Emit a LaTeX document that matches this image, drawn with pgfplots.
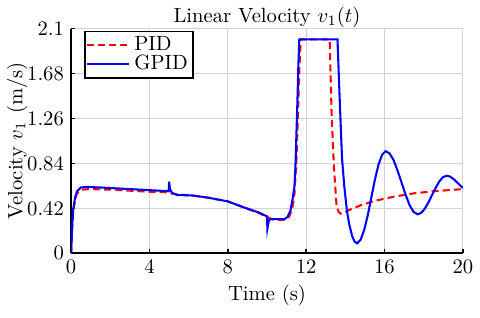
\documentclass[border=0pt]{standalone}
\usepackage{pgfplots}
\pgfplotsset{compat=1.18}
\begin{document}
\begin{tikzpicture}
\begin{axis}[
  scale only axis,
  width=190pt, height=109pt,
  xmin=0, xmax=20, ymin=0, ymax=2.1,
  xtick={0,4,8,12,16,20},
  ytick={0,0.42,0.84,1.26,1.68,2.1},
  yticklabels={0,0.42,0.84,1.26,1.68,2.1},
  axis x line=bottom, axis y line=left,
  axis line style={-, black, line width=0.8pt},
  tick align=inside,
  major tick length=2pt,
  tick style={black, line width=0.7pt},
  grid=major,
  grid style={gray!35, line width=0.5pt},
  title={Linear Velocity $v_1(t)$},
  title style={yshift=-9pt},
  xlabel={Time (s)},
  xlabel style={yshift=1.5pt},
  ylabel={Velocity $v_1$ (m/s)},
  ylabel style={yshift=-7pt},
  legend style={at={(0.033,0.99)}, anchor=north west, draw=black, line width=0.8pt, fill=white, legend cell align=left, inner sep=0.5pt, row sep=-3.5pt, nodes={inner sep=2pt}},
  legend image code/.code={\draw[#1] (0cm,0cm) -- (0.72cm,0cm);},
]
\addplot[red, dashed, dash pattern=on 3.4pt off 2pt, line width=1pt] coordinates {
(0,0) (0.05,0.22) (0.1,0.38) (0.2,0.5) (0.3,0.56) (0.5,0.595) (1,0.6) (2,0.595) (3,0.585) (4,0.575) (4.95,0.57) (5.1,0.56) (5.4,0.55) (6.2,0.54) (7,0.52) (8,0.485) (8.8,0.43) (9.6,0.375) (10.0,0.34) (10.3,0.315) (10.8,0.31) (11.1,0.33) (11.3,0.42) (11.4,0.55) (11.5,0.85) (11.58,1.3) (11.65,1.7) (11.72,2.0) (13.2,2.0) (13.3,1.3) (13.42,0.8) (13.55,0.45) (13.65,0.39) (13.75,0.372) (13.85,0.37) (14.2,0.405) (14.8,0.45) (15.5,0.49) (16.5,0.53) (17.5,0.56) (18.5,0.58) (20,0.60)
};
\addlegendentry{PID}
\addplot[blue, line width=1pt] coordinates {
(0,0) (0.05,0.25) (0.1,0.4) (0.2,0.52) (0.3,0.58) (0.5,0.615) (0.8,0.62) (1.5,0.615) (2.5,0.605) (3.5,0.595) (4.5,0.585) (4.98,0.58) (5.0,0.67) (5.05,0.6) (5.15,0.565) (5.4,0.545) (6.2,0.54) (7.0,0.52) (8.0,0.485) (8.8,0.43) (9.6,0.38) (10.0,0.345) (10.02,0.23) (10.1,0.31) (10.2,0.32) (10.9,0.32) (11.05,0.34) (11.2,0.4) (11.3,0.5) (11.4,0.62) (11.45,0.8) (11.5,1.1) (11.55,1.4) (11.6,1.75) (11.65,2.0) (13.6,2.0) (13.7,1.5) (13.83,0.89) (13.95,0.62) (14.08,0.4) (14.2,0.27) (14.35,0.16) (14.47,0.11) (14.6,0.093) (14.78,0.126) (14.965,0.219) (15.15,0.359) (15.33,0.524) (15.51,0.689) (15.695,0.829) (15.88,0.922) (16.06,0.955) (16.26,0.933) (16.47,0.869) (16.67,0.772) (16.875,0.66) (17.08,0.547) (17.28,0.45) (17.49,0.386) (17.69,0.364) (17.875,0.378) (18.06,0.417) (18.245,0.476) (18.43,0.545) (18.615,0.613) (18.8,0.672) (18.985,0.711) (19.17,0.725) (19.35,0.717) (19.55,0.69) (19.75,0.655) (20,0.61)
};
\addlegendentry{GPID}
\end{axis}
\path (current bounding box.south) ++(0,-2.5pt);
\end{tikzpicture}
\end{document}
